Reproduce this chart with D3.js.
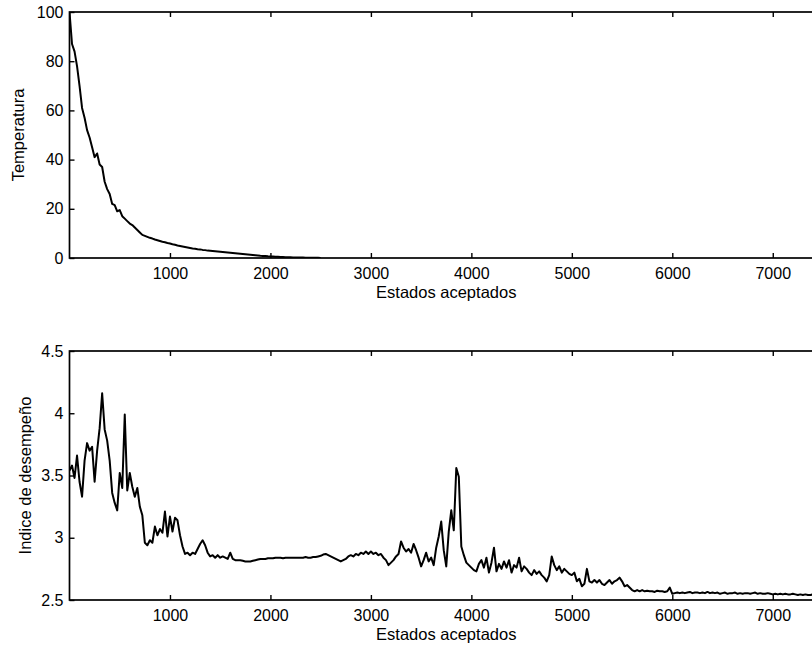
<!DOCTYPE html>
<html>
<head>
<meta charset="utf-8">
<script src="https://cdn.jsdelivr.net/npm/d3@7"></script>
<style>
    body { margin: 0; background: #fff; }
    svg { display: block; }
    .tick text { font-family: "Liberation Sans", Arial, sans-serif; font-size: 16px; fill: #000; }
    .tick line { stroke: #000; stroke-width: 1.4; }
    .frame { fill: none; stroke: #000; stroke-width: 1.7; }
    .label { font-family: "Liberation Sans", Arial, sans-serif; font-size: 16.5px; fill: #000; }
    .series { fill: none; stroke: #000; stroke-width: 2; stroke-linejoin: round; }
</style>
</head>
<body>
<script>
//accepted states are sampled every 25 steps
var stepSize = 25;

//x axis ticks (accepted states) and y axis ticks
var xTicks = [1000, 2000, 3000, 4000, 5000, 6000, 7000];
var tempTicks = [0, 20, 40, 60, 80, 100];
var perfTicks = [2.5, 3, 3.5, 4, 4.5];

//axis titles
var xTitle = "Estados aceptados";
var tempTitle = "Temperatura";
var perfTitle = "Indice de desempeño";

//temperature, one value every 25 accepted states (0 .. 2500)
var temperature = [
    100, 87, 84, 78, 70, 61, 57, 52, 49, 45,          //0
    41, 42.5, 38, 37, 31, 28, 26, 22, 21.5, 19,       //250
    19.5, 17, 16, 15, 14, 13.4, 12.4, 11.4, 10.4, 9.4, //500
    9.0, 8.6, 8.2, 7.9, 7.5, 7.2, 6.9, 6.6, 6.4, 6.1, //750
    5.9, 5.6, 5.4, 5.1, 4.9, 4.7, 4.5, 4.3, 4.1, 3.9, //1000
    3.8, 3.6, 3.5, 3.3, 3.2, 3.0, 2.9, 2.8, 2.7, 2.6, //1250
    2.5, 2.4, 2.3, 2.2, 2.1, 2.0, 1.9, 1.8, 1.7, 1.6, //1500
    1.5, 1.4, 1.3, 1.2, 1.1, 1.0, 0.9, 0.85, 0.8, 0.7, //1750
    0.65, 0.6, 0.55, 0.5, 0.45, 0.4, 0.35, 0.3, 0.28, 0.25, //2000
    0.22, 0.2, 0.18, 0.16, 0.14, 0.12, 0.1, 0.09, 0.08, 0.07, //2250
    0.05                                               //2500
];

//performance index, one value every 25 accepted states (0 .. 7475)
var performance = [
    3.54, 3.58, 3.48, 3.66, 3.45, 3.33, 3.62, 3.76, 3.70, 3.73, //0
    3.45, 3.70, 3.88, 4.16, 3.87, 3.78, 3.62, 3.36, 3.28, 3.22, //250
    3.52, 3.40, 3.99, 3.38, 3.52, 3.41, 3.33, 3.40, 3.25, 3.18, //500
    2.96, 2.94, 2.98, 2.96, 3.09, 3.02, 3.07, 3.04, 3.21, 3.01, //750
    3.17, 3.05, 3.16, 3.14, 3.02, 2.93, 2.87, 2.88, 2.86, 2.88, //1000
    2.87, 2.91, 2.95, 2.98, 2.94, 2.88, 2.85, 2.86, 2.84, 2.86, //1250
    2.84, 2.85, 2.84, 2.83, 2.88, 2.83, 2.82, 2.82, 2.82, 2.815, //1500
    2.81, 2.81, 2.81, 2.815, 2.82, 2.825, 2.83, 2.83, 2.83, 2.835, //1750
    2.835, 2.835, 2.84, 2.84, 2.84, 2.835, 2.84, 2.84, 2.84, 2.84, //2000
    2.84, 2.84, 2.84, 2.84, 2.845, 2.84, 2.84, 2.845, 2.845, 2.85, //2250
    2.855, 2.865, 2.87, 2.86, 2.85, 2.84, 2.83, 2.82, 2.81, 2.82, //2500
    2.83, 2.85, 2.86, 2.85, 2.87, 2.86, 2.88, 2.87, 2.89, 2.87, //2750
    2.89, 2.87, 2.88, 2.86, 2.87, 2.84, 2.82, 2.78, 2.80, 2.82, //3000
    2.85, 2.87, 2.97, 2.92, 2.89, 2.91, 2.88, 2.95, 2.90, 2.84, //3250
    2.77, 2.82, 2.88, 2.81, 2.84, 2.78, 2.92, 3.01, 3.13, 2.90, //3500
    2.77, 3.05, 3.22, 3.06, 3.56, 3.49, 2.93, 2.86, 2.80, 2.78, //3750
    2.76, 2.74, 2.73, 2.79, 2.82, 2.76, 2.84, 2.72, 2.80, 2.92, //4000
    2.73, 2.79, 2.75, 2.81, 2.76, 2.82, 2.72, 2.78, 2.76, 2.84, //4250
    2.73, 2.77, 2.75, 2.72, 2.70, 2.74, 2.71, 2.73, 2.70, 2.68, //4500
    2.65, 2.70, 2.85, 2.78, 2.74, 2.77, 2.72, 2.75, 2.73, 2.71, //4750
    2.70, 2.72, 2.65, 2.67, 2.61, 2.63, 2.75, 2.65, 2.64, 2.66, //5000
    2.64, 2.66, 2.63, 2.62, 2.64, 2.66, 2.63, 2.65, 2.66, 2.68, //5250
    2.65, 2.61, 2.62, 2.60, 2.58, 2.57, 2.58, 2.57, 2.58, 2.57, //5500
    2.575, 2.57, 2.57, 2.565, 2.575, 2.57, 2.57, 2.565, 2.57, 2.60, //5750
    2.55, 2.555, 2.56, 2.555, 2.56, 2.555, 2.56, 2.565, 2.555, 2.56, //6000
    2.56, 2.555, 2.56, 2.555, 2.565, 2.555, 2.56, 2.555, 2.56, 2.55, //6250
    2.555, 2.56, 2.55, 2.555, 2.555, 2.56, 2.55, 2.555, 2.55, 2.555, //6500
    2.555, 2.55, 2.555, 2.56, 2.55, 2.555, 2.55, 2.55, 2.555, 2.55, //6750
    2.545, 2.55, 2.545, 2.55, 2.545, 2.55, 2.545, 2.545, 2.55, 2.545, //7000
    2.54, 2.545, 2.54, 2.545, 2.54, 2.54, 2.545, 2.54, 2.54, 2.54  //7250
];

window.onload = drawChart;

function drawChart(){
    var width = 812,
        height = 646;

    var svg = d3.select("body")
        .append("svg")
        .attr("width", width)
        .attr("height", height);

    //shared horizontal scale, right edge falls just outside the picture
    var x = d3.scaleLinear()
        .domain([0, 7500])
        .range([69.5, 823]);

    //top panel: temperature
    drawPanel(svg, x, {
        id: "temp",
        top: 12, bottom: 258,
        domain: [0, 100],
        ticks: tempTicks,
        values: temperature,
        title: tempTitle,
        titleX: 24,
        xTitleY: 298
    });

    //bottom panel: performance index
    drawPanel(svg, x, {
        id: "perf",
        top: 351, bottom: 600,
        domain: [2.5, 4.5],
        ticks: perfTicks,
        values: performance,
        title: perfTitle,
        titleX: 31,
        xTitleY: 640
    });
};

function drawPanel(svg, x, p){
    var y = d3.scaleLinear()
        .domain(p.domain)
        .range([p.bottom, p.top]);

    var left = x.range()[0],
        right = x.range()[1];

    //clip the series to the axes box
    svg.append("clipPath")
        .attr("id", "clip-" + p.id)
        .append("rect")
        .attr("x", left)
        .attr("y", p.top)
        .attr("width", right - left)
        .attr("height", p.bottom - p.top);

    var line = d3.line()
        .x(function(d, i){ return x(i * stepSize); })
        .y(function(d){ return y(d); });

    svg.append("path")
        .datum(p.values)
        .attr("class", "series")
        .attr("clip-path", "url(#clip-" + p.id + ")")
        .attr("d", line);

    //bottom axis with inward ticks
    svg.append("g")
        .attr("transform", "translate(0," + p.bottom + ")")
        .call(d3.axisBottom(x)
            .tickValues(xTicks)
            .tickFormat(d3.format("d"))
            .tickSizeInner(-5)
            .tickSizeOuter(0)
            .tickPadding(10))
        .call(function(g){ g.select(".domain").remove(); });

    //top axis, ticks only
    svg.append("g")
        .attr("transform", "translate(0," + p.top + ")")
        .call(d3.axisTop(x)
            .tickValues(xTicks)
            .tickFormat("")
            .tickSizeInner(-5)
            .tickSizeOuter(0))
        .call(function(g){ g.select(".domain").remove(); });

    //left axis
    svg.append("g")
        .attr("transform", "translate(" + left + ",0)")
        .call(d3.axisLeft(y)
            .tickValues(p.ticks)
            .tickFormat(function(d){ return String(d); })
            .tickSizeInner(-5)
            .tickSizeOuter(0)
            .tickPadding(6))
        .call(function(g){ g.select(".domain").remove(); });

    //axes box
    svg.append("rect")
        .attr("class", "frame")
        .attr("x", left)
        .attr("y", p.top)
        .attr("width", right - left)
        .attr("height", p.bottom - p.top);

    //x title
    svg.append("text")
        .attr("class", "label")
        .attr("x", (left + right) / 2)
        .attr("y", p.xTitleY)
        .attr("text-anchor", "middle")
        .text(xTitle);

    //y title
    svg.append("text")
        .attr("class", "label")
        .attr("transform", "translate(" + p.titleX + "," + ((p.top + p.bottom) / 2) + ") rotate(-90)")
        .attr("text-anchor", "middle")
        .text(p.title);
};
</script>
</body>
</html>
